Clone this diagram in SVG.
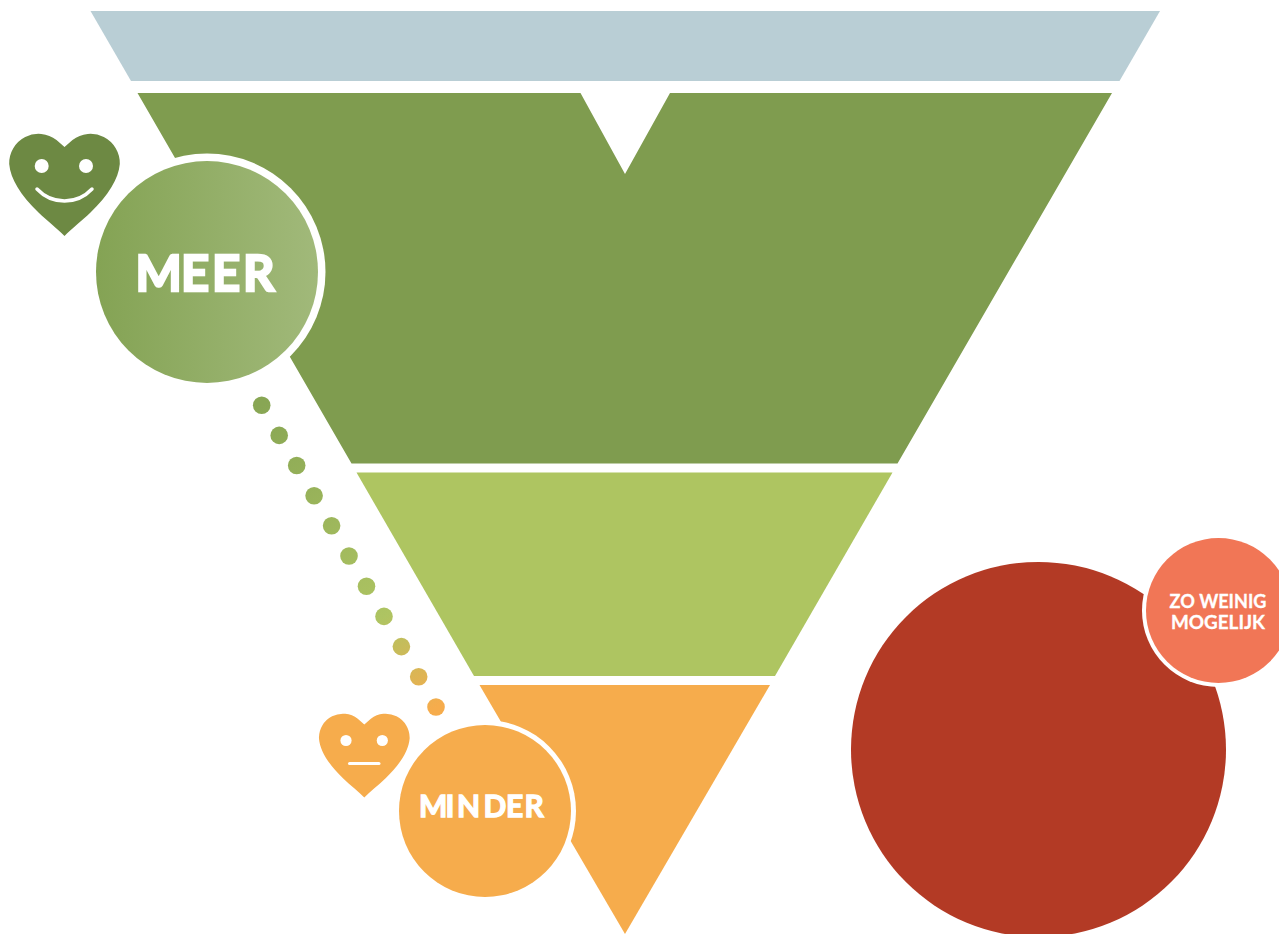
<svg xmlns="http://www.w3.org/2000/svg" width="1279" height="934" viewBox="0 0 1279 934">
<style>
.t{font-family:"Lato","Liberation Sans",sans-serif;fill:#fff;stroke:#fff;stroke-linejoin:miter;font-weight:700}
.c{text-anchor:middle}
.f{fill:#fff}
.m{fill:none;stroke:#fff;stroke-linecap:round}
</style>
<defs>
<linearGradient id="g1" gradientUnits="userSpaceOnUse" x1="96" y1="0" x2="318" y2="0"><stop offset="0" stop-color="#84a354"/><stop offset="1" stop-color="#a1b97a"/></linearGradient>
<linearGradient id="g2" gradientUnits="userSpaceOnUse" x1="262" y1="405" x2="436" y2="707"><stop offset="0" stop-color="#88a654"/><stop offset="0.7" stop-color="#aec462"/><stop offset="1" stop-color="#f6ac4c"/></linearGradient>
<path id="heart" d="M0 -89L-8 -96A29.300 29.300 0 0 0 -55.300 -72C-54 -57 -44 -41 -26 -23.500C-17 -15 -7 -7 0 0C7 -7 17 -15 26 -23.500C44 -41 54 -57 55.300 -72A29.300 29.300 0 0 0 8 -96Z"/>
</defs>
<rect width="1279" height="934" fill="#fff"/>
<g id="layer-top"><polygon points="90.500,11 1160,11 1119.500,81 131,81" fill="#b9ced5"/></g>
<g id="layer-green"><polygon points="137.500,93 580.500,93 625,174 670,93 1112,93 897.500,463.500 351.500,463.500" fill="#7f9c4f"/></g>
<g id="layer-lime"><polygon points="356.500,472.500 892.500,472.500 775,676 474,676" fill="#aec561"/></g>
<g id="layer-orange"><polygon points="479.500,685 770,685 625,934" fill="#f6ac4c"/></g>
<g id="connectors" fill="url(#g2)">
<circle cx="261.700" cy="405.300" r="8.800"/><circle cx="279.200" cy="435.400" r="8.800"/><circle cx="296.700" cy="465.500" r="8.800"/><circle cx="314.100" cy="495.700" r="8.800"/><circle cx="331.600" cy="525.800" r="8.800"/><circle cx="349" cy="556" r="8.800"/><circle cx="366.500" cy="586.200" r="8.800"/><circle cx="384" cy="616.400" r="8.800"/><circle cx="401.400" cy="646.600" r="8.800"/><circle cx="418.700" cy="676.700" r="8.800"/><circle cx="436" cy="707" r="8.800"/>
</g>
<g id="node-meer">
<circle cx="207" cy="272" r="118.500" fill="#fff"/>
<circle cx="207" cy="272" r="111" fill="url(#g1)"/>
<text class="t" x="135.500 181 212 243" y="291" font-size="49" stroke-width="2.400">MEER</text>
</g>
<g id="heart-happy">
<use href="#heart" transform="translate(64.500 236)" fill="#6d8943"/>
<circle class="f" cx="41.700" cy="166" r="7"/><circle class="f" cx="86" cy="166" r="7"/>
<path class="m" stroke-width="3.500" d="M37 189C52 205 77 205 92 189"/>
</g>
<g id="node-minder">
<circle cx="485" cy="811" r="91" fill="#fff"/>
<circle cx="485" cy="811" r="86" fill="#f6ac4c"/>
<text class="t" x="419 445.500 457 483.500 506 524.500" y="817" font-size="30" stroke-width="1.300">MINDER</text>
</g>
<g id="heart-neutral">
<use href="#heart" transform="translate(364.300 797.500) scale(.82)" fill="#f6ac4c"/>
<circle class="f" cx="346" cy="740.500" r="5.600"/><circle class="f" cx="382.300" cy="740.500" r="5.600"/>
<path class="m" stroke-width="3" d="M349.500 763.500H379"/>
</g>
<g id="node-large"><circle cx="1038.500" cy="749.500" r="187.500" fill="#b33a25"/></g>
<g id="node-zo">
<circle cx="1218.500" cy="610.500" r="76.500" fill="#fff"/>
<circle cx="1218.500" cy="610.500" r="72.500" fill="#f17656"/>
<text class="t c" x="1218" y="608" font-size="18" stroke-width=".3" textLength="97" lengthAdjust="spacingAndGlyphs">ZO WEINIG</text>
<text class="t c" x="1218" y="628.500" font-size="18" stroke-width=".3" textLength="94" lengthAdjust="spacingAndGlyphs">MOGELIJK</text>
</g>
</svg>
